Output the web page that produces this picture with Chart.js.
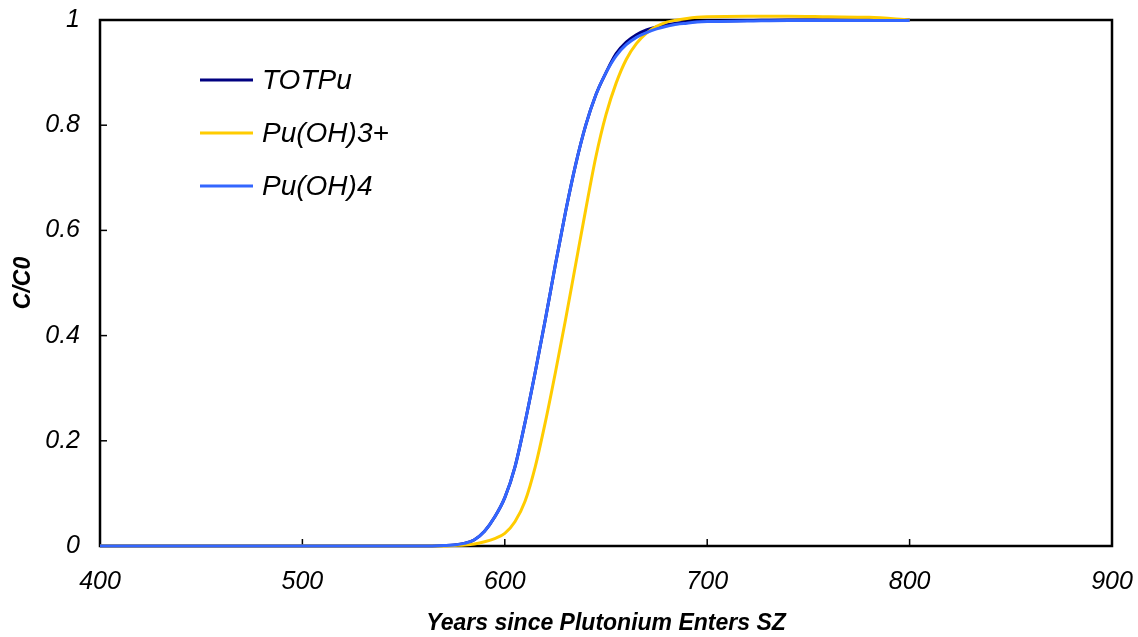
<!DOCTYPE html>
<html>
<head>
<meta charset="utf-8">
<script src="https://cdn.jsdelivr.net/npm/chart.js@4"></script>
<style>
  html, body { margin: 0; padding: 0; background: #fff; }
  #wrap { width: 1138px; height: 637px; }
</style>
</head>
<body>
<div id="wrap"><canvas id="chart"></canvas></div>
<script>
// Data
const years = [400, 500, 560, 570, 575, 580, 585, 590, 595, 600, 605, 610, 615, 620, 625, 630,
  635, 640, 645, 650, 655, 660, 665, 670, 675, 680, 685, 690, 695, 700, 720, 740, 760, 780, 800];
const totPu = [0, 0, 0, 0.001, 0.002, 0.005, 0.012, 0.028, 0.055, 0.092, 0.15, 0.235, 0.33, 0.43,
  0.535, 0.635, 0.725, 0.8, 0.858, 0.9, 0.936, 0.958, 0.972, 0.981, 0.987, 0.991, 0.994, 0.996,
  0.997, 0.998, 0.999, 1.0, 1.0, 1.0, 1.0];
const puOH3 = [0, 0, 0, 0, 0.001, 0.002, 0.004, 0.008, 0.014, 0.024, 0.046, 0.085, 0.15, 0.235,
  0.33, 0.43, 0.535, 0.64, 0.74, 0.82, 0.88, 0.925, 0.955, 0.975, 0.988, 0.996, 1.0, 1.003,
  1.005, 1.006, 1.007, 1.007, 1.006, 1.005, 1.0];
const puOH4 = [0, 0, 0, 0.001, 0.002, 0.005, 0.012, 0.028, 0.055, 0.092, 0.15, 0.235, 0.33, 0.43,
  0.535, 0.635, 0.725, 0.8, 0.858, 0.9, 0.932, 0.953, 0.967, 0.976, 0.983, 0.988, 0.992, 0.994,
  0.996, 0.997, 0.998, 0.999, 0.999, 0.999, 0.999];
const seriesNames = ['TOTPu', 'Pu(OH)3+', 'Pu(OH)4'];
const xTicks = [400, 500, 600, 700, 800, 900];
const yTicks = [0, 0.2, 0.4, 0.6, 0.8, 1];

const pts = vals => years.map((x, i) => ({ x: x, y: vals[i] }));

// frame + inward tick marks, drawn under the lines
const framePlugin = {
  id: 'frame',
  beforeDatasetsDraw(chart) {
    const { ctx, chartArea: a, scales } = chart;
    ctx.save();
    ctx.strokeStyle = '#000';
    ctx.lineWidth = 1.5;
    xTicks.forEach(v => {
      const px = scales.x.getPixelForValue(v);
      ctx.beginPath(); ctx.moveTo(px, a.bottom); ctx.lineTo(px, a.bottom - 7); ctx.stroke();
    });
    yTicks.forEach(v => {
      const py = scales.y.getPixelForValue(v);
      ctx.beginPath(); ctx.moveTo(a.left, py); ctx.lineTo(a.left + 7, py); ctx.stroke();
    });
    ctx.lineWidth = 2.5;
    ctx.strokeRect(a.left, a.top, a.right - a.left, a.bottom - a.top);
    ctx.restore();
  }
};

// legend inside the plot area, top left
const legendPlugin = {
  id: 'innerLegend',
  afterDraw(chart) {
    const { ctx, chartArea: a } = chart;
    ctx.save();
    ctx.font = 'italic 28px "Liberation Sans", Arial, sans-serif';
    ctx.textBaseline = 'middle';
    ctx.fillStyle = '#000';
    chart.data.datasets.forEach((ds, i) => {
      const y = a.top + 60 + i * 53;
      ctx.strokeStyle = ds.borderColor;
      ctx.lineWidth = 3;
      ctx.beginPath(); ctx.moveTo(a.left + 100, y); ctx.lineTo(a.left + 153, y); ctx.stroke();
      ctx.fillText(ds.label, a.left + 162, y + 1);
    });
    ctx.restore();
  }
};

const tickFont = { family: '"Liberation Sans", Arial, sans-serif', size: 25, style: 'italic' };
const titleFont = { family: '"Liberation Sans", Arial, sans-serif', size: 23, style: 'italic', weight: 'bold' };

new Chart(document.getElementById('chart'), {
  type: 'line',
  data: {
    datasets: [
      { label: seriesNames[0], data: pts(totPu), borderColor: '#000080', order: 2 },
      { label: seriesNames[1], data: pts(puOH3), borderColor: '#FFCC00', order: 1 },
      { label: seriesNames[2], data: pts(puOH4), borderColor: '#3366FF', order: 0 }
    ]
  },
  options: {
    responsive: true,
    maintainAspectRatio: false,
    animation: false,
    layout: { padding: { top: 20, right: 26, left: 0, bottom: 0 } },
    elements: {
      line: { borderWidth: 3, cubicInterpolationMode: 'monotone', fill: false },
      point: { radius: 0 }
    },
    datasets: { line: { clip: 6 } },
    plugins: {
      legend: { display: false },
      tooltip: { enabled: false }
    },
    scales: {
      x: {
        type: 'linear',
        min: 400,
        max: 900,
        afterBuildTicks: s => { s.ticks = xTicks.map(v => ({ value: v })); },
        afterFit: s => { s.height = 91; s.paddingLeft = 0; s.paddingRight = 0; },
        grid: { drawOnChartArea: false, drawTicks: false },
        border: { display: false },
        ticks: { color: '#000', font: tickFont, padding: 21, maxRotation: 0 },
        title: { display: true, text: 'Years since Plutonium Enters SZ', color: '#000', font: titleFont, padding: { top: 0, bottom: 0 } }
      },
      y: {
        min: 0,
        max: 1,
        afterBuildTicks: s => { s.ticks = yTicks.map(v => ({ value: v })); },
        afterFit: s => { s.width = 100; s.paddingTop = 0; s.paddingBottom = 0; },
        grid: { drawOnChartArea: false, drawTicks: false },
        border: { display: false },
        ticks: { color: '#000', font: tickFont, padding: 20, callback: v => String(v) },
        title: { display: true, text: 'C/C0', color: '#000', font: titleFont, padding: { top: 10, bottom: 0 } }
      }
    }
  },
  plugins: [framePlugin, legendPlugin]
});
</script>
</body>
</html>
